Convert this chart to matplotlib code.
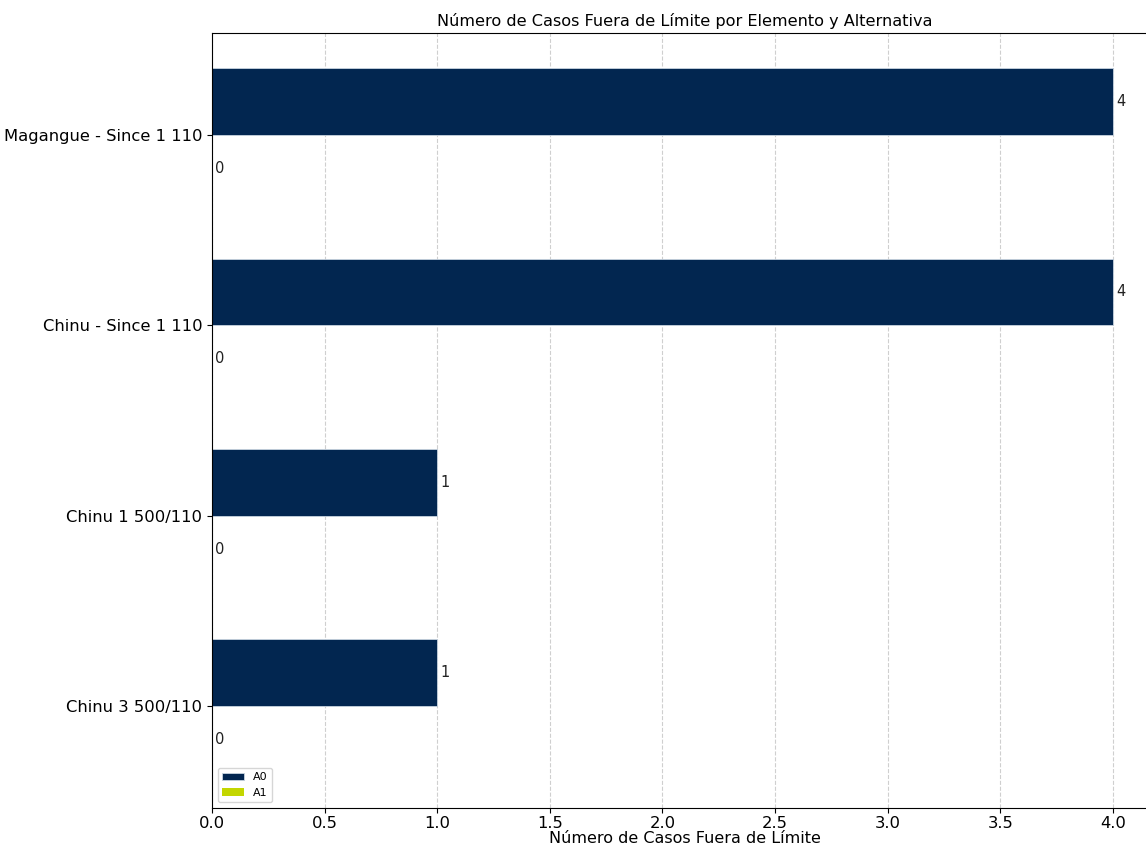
import numpy as np
import matplotlib.pyplot as plt

elementos = ["Chinu 3 500/110", "Chinu 1 500/110", "Chinu - Since 1 110", "Magangue - Since 1 110"]
a0 = [1, 1, 4, 4]
a1 = [0, 0, 0, 0]
series = ["A0", "A1"]
colores = ["#022650", "#c3d600"]

fig = plt.figure(figsize=(11.46, 8.48), dpi=100)
ax = fig.add_axes([0.185, 0.0472, 0.8255, 0.9139])

y = np.arange(len(elementos))
h = 0.35
b0 = ax.barh(y + h / 2, a0, h, color=colores[0], edgecolor="#c8d4e0", linewidth=0.6, label=series[0])
b1 = ax.barh(y - h / 2, a1, h, color=colores[1], label=series[1])

for bars, vals in [(b0, a0), (b1, a1)]:
    for bar, v in zip(bars, vals):
        ax.text(bar.get_width() + 0.015, bar.get_y() + bar.get_height() / 2, str(v),
                va="center", ha="left", fontsize=10.5, color="#222222")

ax.set_yticks(y)
ax.set_yticklabels(elementos, fontsize=11.8)
ax.tick_params(axis="x", labelsize=11.8, pad=2)
ax.set_xlim(0, 4.2)
ax.set_xlabel("Número de Casos Fuera de Límite", fontsize=11.5, labelpad=0)
ax.set_title("Número de Casos Fuera de Límite por Elemento y Alternativa", fontsize=11.6, pad=5)
ax.grid(axis="x", linestyle="--", alpha=0.6)
ax.set_axisbelow(True)
ax.legend(loc="lower left", fontsize=8)

plt.savefig("out.png", dpi=100)
